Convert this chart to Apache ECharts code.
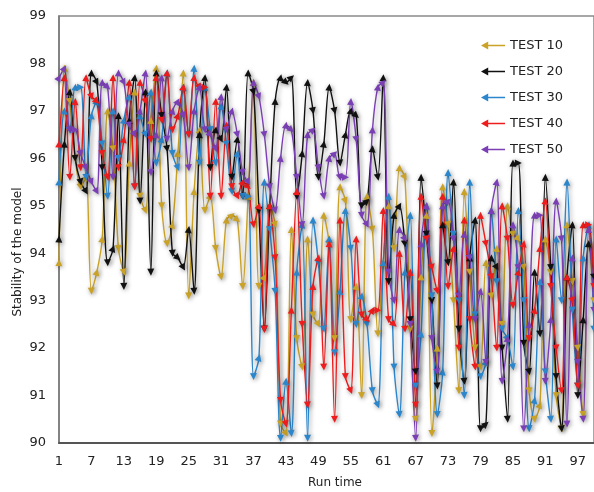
<!DOCTYPE html>
<html>
<head>
<meta charset="utf-8">
<script src="https://cdn.jsdelivr.net/npm/echarts@6/dist/echarts.min.js"></script>
<style>
  html, body { margin: 0; padding: 0; background: #fff; }
  #main { width: 594px; height: 492px; }
</style>
</head>
<body>
<div id="main"></div>
<script>
const runs = [];
for (let i = 1; i <= 100; i++) runs.push(String(i));

const test10 = [
  93.8, 97.9, 97.2, 96.0, 95.4, 95.6, 93.2, 93.6, 94.3, 97.0,
  96.2, 94.1, 93.6, 95.9, 97.4, 95.2, 94.9, 96.8, 97.9, 95.0,
  94.2, 94.6, 96.1, 97.8, 93.1, 95.3, 96.6, 94.9, 95.2, 94.1,
  93.5, 94.7, 94.8, 94.7, 93.3, 95.2, 97.6, 93.3, 93.5, 95.0,
  94.6, 90.4, 90.2, 94.5, 92.2, 91.6, 94.3, 92.7, 92.5, 94.8,
  94.2, 92.2, 95.4, 95.1, 92.6, 93.3, 91.0, 95.2, 94.5, 92.3,
  93.8, 95.0, 94.1, 95.8, 95.6, 92.4, 90.5, 93.5, 94.8, 90.2,
  92.0, 95.4, 94.6, 93.0, 91.1, 95.3, 93.6, 92.0, 91.6, 93.8,
  93.1, 94.1, 92.5, 95.0, 94.4, 94.3, 93.7, 91.1, 90.5, 90.8,
  94.3, 93.6, 91.0, 90.3, 94.6, 93.4, 92.0, 90.6, 94.2, 93.0
];
const test20 = [
  94.3, 96.3, 97.4, 96.0, 95.5, 95.3, 97.8, 97.6, 95.8, 93.8,
  94.1, 96.9, 93.3, 96.8, 97.7, 95.1, 97.4, 93.6, 97.8, 96.9,
  96.2, 94.0, 93.9, 93.7, 94.5, 93.2, 96.5, 97.7, 95.8, 96.6,
  96.4, 97.5, 95.6, 96.4, 95.2, 97.8, 97.4, 94.9, 92.4, 95.0,
  97.2, 97.7, 97.6, 97.7, 95.2, 96.1, 97.6, 97.0, 95.6, 96.3,
  97.5, 97.0, 95.9, 96.5, 97.0, 96.9, 95.0, 95.1, 96.2, 95.6,
  97.7, 93.4, 94.8, 95.0, 94.2, 92.6, 91.5, 95.6, 94.4, 93.0,
  91.2, 94.6, 93.8, 95.5, 92.4, 91.3, 93.9, 94.7, 90.3, 90.4,
  93.9, 93.7, 92.0, 90.5, 95.9, 95.9, 92.1, 91.5, 93.6, 92.3,
  95.6, 93.7, 91.4, 90.3, 93.5, 94.6, 91.0, 92.6, 94.2, 93.5
];
const test30 = [
  95.5, 97.0, 96.6, 97.5, 97.5, 95.6, 96.9, 97.2, 96.3, 95.2,
  97.0, 96.0, 96.8, 97.3, 95.4, 96.9, 96.5, 97.4, 95.9, 96.4,
  97.8, 96.1, 95.8, 97.5, 96.5, 97.9, 95.9, 97.5, 96.6, 95.9,
  97.1, 96.3, 95.3, 96.1, 95.2, 95.2, 91.4, 91.8, 95.5, 94.5,
  93.2, 90.1, 91.3, 90.2, 93.6, 94.6, 90.1, 94.7, 93.8, 92.4,
  94.3, 91.9, 93.2, 94.9, 94.1, 92.5, 93.1, 92.5, 91.1, 90.8,
  93.8, 95.2, 91.6, 90.6, 93.6, 94.8, 91.2, 92.3, 95.0, 93.1,
  90.6, 91.5, 95.7, 94.4, 93.0, 91.0, 95.5, 92.7, 91.4, 91.7,
  94.9, 93.4, 92.4, 92.2, 91.6, 94.9, 93.0, 90.3, 90.9, 93.4,
  91.5, 90.5, 94.3, 93.0, 95.5, 92.8, 91.2, 93.9, 94.6, 92.4
];
const test40 = [
  96.3, 97.7, 95.6, 97.2, 95.8, 97.7, 97.3, 97.2, 96.1, 95.6,
  97.7, 95.8, 96.4, 97.6, 95.4, 97.6, 97.2, 96.4, 97.7, 96.8,
  97.8, 96.6, 96.9, 97.5, 96.5, 97.7, 97.5, 97.5, 95.2, 97.2,
  95.2, 96.7, 95.4, 95.2, 95.5, 95.4, 94.6, 95.0, 92.4, 95.0,
  93.9, 90.9, 90.4, 92.8, 95.3, 92.5, 90.8, 93.3, 93.9, 91.6,
  94.2, 90.5, 94.7, 91.4, 91.1, 94.3, 92.7, 92.6, 92.8, 92.8,
  94.9, 92.6, 92.5, 94.0, 92.4, 93.6, 90.8, 95.2, 94.3, 93.7,
  93.2, 95.2, 93.3, 94.1, 92.0, 94.7, 92.6, 91.6, 94.8, 94.2,
  93.5, 92.0, 95.0, 94.3, 92.9, 93.6, 94.2, 92.2, 92.8, 94.1,
  95.1, 93.3, 92.0, 91.1, 93.5, 93.0, 91.2, 94.6, 94.6, 93.3
];
const test50 = [
  97.7, 97.9, 96.6, 96.6, 96.1, 95.8, 95.5, 95.3, 97.6, 97.5,
  95.6, 97.8, 97.6, 96.7, 96.5, 97.0, 97.8, 95.7, 96.5, 97.7,
  96.4, 97.0, 97.2, 96.9, 95.8, 97.0, 97.5, 96.6, 96.5, 96.2,
  97.3, 96.6, 97.0, 96.5, 95.7, 95.5, 97.6, 97.3, 96.5, 95.4,
  94.9, 96.0, 96.7, 96.6, 95.6, 94.6, 96.5, 96.6, 95.8, 95.2,
  96.0, 96.1, 95.6, 95.6, 97.2, 96.4, 94.8, 94.6, 96.6, 97.5,
  97.6, 93.6, 93.0, 94.5, 94.3, 92.5, 90.1, 94.2, 95.0, 92.2,
  91.5, 95.0, 95.1, 94.3, 93.1, 94.4, 93.9, 92.6, 93.2, 91.7,
  94.9, 95.5, 91.3, 92.2, 94.6, 93.7, 90.3, 92.5, 94.8, 94.8,
  91.3, 92.6, 95.1, 94.3, 90.4, 93.9, 91.7, 90.5, 94.5, 92.8
];

const names = ['TEST 10', 'TEST 20', 'TEST 30', 'TEST 40', 'TEST 50'];
const colors = ['#c9a227', '#111111', '#2b86cc', '#ee1c1c', '#7b3fb5'];
const seriesData = [test10, test20, test30, test40, test50];

// pixel size of one step on each axis, used to point the arrowheads
const stepX = 5.41;
const unitY = 47.4;

function arrowAngle(vals) {
  return function (value, params) {
    const i = params.dataIndex;
    let dy;
    if (i === 0) dy = (vals[1] - vals[0]) * unitY;
    else dy = (vals[i] - vals[i - 1]) * unitY;
    return Math.atan2(dy, stepX) * 180 / Math.PI - 90;
  };
}

const legendIcon = 'path://M0,5 L9,0 L9,4 L30,4 L30,6 L9,6 L9,10 Z';

const series = seriesData.map(function (vals, k) {
  return {
    name: names[k],
    type: 'line',
    data: vals,
    smooth: 0.3,
    symbol: 'triangle',
    symbolSize: 7,
    symbolRotate: arrowAngle(vals),
    showAllSymbol: true,
    color: colors[k],
    lineStyle: {
      width: 1.4,
      color: colors[k],
      shadowColor: 'rgba(0,0,0,0.35)',
      shadowBlur: 4,
      shadowOffsetX: 2,
      shadowOffsetY: 2
    },
    itemStyle: {
      color: colors[k],
      shadowColor: 'rgba(0,0,0,0.4)',
      shadowBlur: 5,
      shadowOffsetX: 1,
      shadowOffsetY: 1
    },
    emphasis: { disabled: true },
    animation: false
  };
});

const chart = echarts.init(document.getElementById('main'));
chart.setOption({
  backgroundColor: '#ffffff',
  animation: false,
  textStyle: { fontFamily: 'DejaVu Sans' },
  grid: {
    left: 59, right: -1, top: 16, bottom: 49,
    show: true, borderColor: '#8a8a8a', borderWidth: 1.5
  },
  legend: {
    orient: 'vertical',
    left: 476,
    top: 34,
    itemWidth: 24,
    itemHeight: 8,
    itemGap: 13,
    textStyle: { fontSize: 13, color: '#222', fontFamily: 'DejaVu Sans' },
    data: names.map(function (n, k) {
      return { name: n, icon: legendIcon, itemStyle: { color: colors[k] } };
    })
  },
  xAxis: {
    type: 'category',
    data: runs,
    boundaryGap: false,
    axisLine: { lineStyle: { color: '#555', width: 2 } },
    axisTick: { show: false },
    axisLabel: { interval: 5, fontSize: 13, color: '#222', margin: 12 },
    splitLine: { show: false }
  },
  yAxis: {
    type: 'value',
    min: 90,
    max: 99,
    interval: 1,
    axisLine: { show: true, lineStyle: { color: '#777', width: 1.5 } },
    axisTick: { show: false },
    axisLabel: { fontSize: 13, color: '#222', margin: 13 },
    splitLine: { show: false }
  },
  graphic: [
    {
      type: 'text',
      x: 18, y: 252,
      rotation: Math.PI / 2,
      style: {
        text: 'Stability of the model',
        fontSize: 12, fill: '#222', fontFamily: 'DejaVu Sans',
        align: 'center', verticalAlign: 'middle'
      }
    },
    {
      type: 'text',
      x: 335, y: 483,
      style: {
        text: 'Run time',
        fontSize: 12, fill: '#222', fontFamily: 'DejaVu Sans',
        align: 'center', verticalAlign: 'middle'
      }
    }
  ],
  series: series
});
</script>
</body>
</html>
